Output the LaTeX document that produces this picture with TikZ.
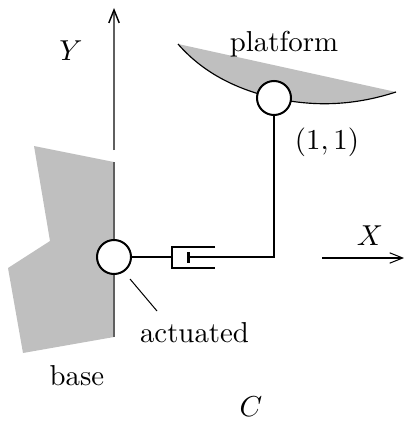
\documentclass[tikz,border=0pt]{standalone}
\usepackage{amsmath}
\usetikzlibrary{arrows.meta}
\definecolor{BaseGray}{RGB}{191,191,191}
\definecolor{AxisGray}{RGB}{95,95,95}
\begin{document}
\begin{tikzpicture}[x=0.347pt,y=-0.347pt,>={Straight Barb[length=4.5pt,width=3.6pt,color=black]},
    joint/.style={circle,draw,line width=0.7pt,fill=white,minimum size=11.8pt,inner sep=0pt},
    leg/.style={line width=0.7pt}]
  \useasboundingbox (0,0) rectangle (404,421);
  % shaded bodies
  \fill[BaseGray] (34,146)--(114,162)--(114,337)--(23,353)--(8,268)--(50,241)--cycle;
  \fill[BaseGray] (178,44)--(396,92) .. controls (350,107) and (310,106) .. (274,98)
    .. controls (240,90) and (205,75) .. (178,44)--cycle;
  \draw[line width=0.4pt] (178,44) .. controls (205,75) and (240,90) .. (274,98)
    .. controls (310,106) and (350,107) .. (396,92);
  % axes
  \coordinate (ytop) at (114,8);
  \coordinate (ygap) at (114,150);
  \coordinate (wallt) at (114,162);
  \coordinate (wallb) at (114,337);
  \draw[->,AxisGray,line width=0.5pt] (ygap)--(ytop);
  \draw[AxisGray,line width=0.5pt] (wallt)--(wallb);
  \coordinate (xleft) at (322,258);
  \coordinate (xright) at (404,258);
  \draw[->,line width=0.35pt] (xleft)--(xright);
  % leg
  \node[joint] (basejoint) at (114,257) {};
  \node[joint] (topjoint) at (274,98) {};
  \coordinate (cylin) at (172,257);
  \coordinate (rodend) at (188,257);
  \coordinate (bend) at (274,257);
  \draw[leg] (basejoint)--(cylin);
  \draw[leg] (215,247)--(172,247)--(172,268)--(215,268);
  \draw[leg] (188.5,252)--(188.5,263);
  \draw[line width=0.5pt] (rodend)--(215,257);
  \draw[line width=1pt] (215,257)--(231,257);
  \draw[leg] (231,257)--(bend)--(topjoint);
  \coordinate (leadtop) at (130,279);
  \coordinate (leadbot) at (157,311);
  \draw[line width=0.35pt] (leadtop)--(leadbot);
  % labels
  \node (labY) at (71,51) {$Y$};
  \node (labX) at (370,236) {$X$};
  \node (labplat) at (284,44) {platform};
  \node (labone) at (327,142) {$(1,1)$};
  \node (labact) at (194.5,333) {actuated};
  \node (labbase) at (77,376) {base};
  \node (labC) at (251,407) {$C$};
\end{tikzpicture}
\end{document}
